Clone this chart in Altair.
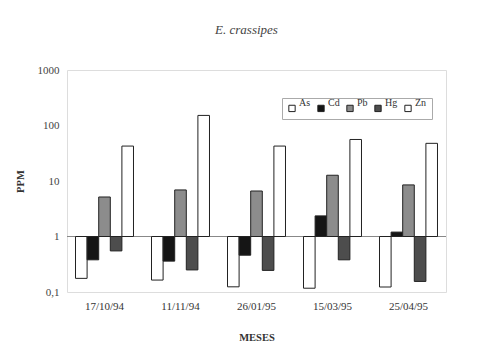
import altair as alt
import pandas as pd

dates = ["17/10/94", "11/11/94", "26/01/95", "15/03/95", "25/04/95"]
metals = ["As", "Cd", "Pb", "Hg", "Zn"]
as_vals = [0.176, 0.164, 0.124, 0.117, 0.123]
cd_vals = [0.38, 0.36, 0.46, 2.35, 1.2]
pb_vals = [5.15, 6.9, 6.6, 12.7, 8.5]
hg_vals = [0.55, 0.25, 0.245, 0.38, 0.155]
zn_vals = [42.6, 152, 42.6, 56, 47.7]
colors = ["#ffffff", "#151515", "#8c8c8c", "#4d4d4d", "#ffffff"]

series = dict(zip(metals, [as_vals, cd_vals, pb_vals, hg_vals, zn_vals]))
rows = []
for m in metals:
    for d, v in zip(dates, series[m]):
        rows.append({"date": d, "metal": m, "value": v, "base": 1})
df = pd.DataFrame(rows)

FONT = "Liberation Serif"

bars = alt.Chart(df).mark_bar(stroke="#222222", strokeWidth=1).encode(
    x=alt.X("date:N", sort=dates,
            scale=alt.Scale(paddingInner=0.237, paddingOuter=0.112),
            axis=alt.Axis(title="MESES", labelAngle=0, ticks=False, domain=False,
                          labelFont=FONT, labelFontSize=11, labelColor="#333",
                          labelPadding=8, titleFont=FONT, titleFontSize=10.5,
                          titleFontWeight="bold", titlePadding=21, titleColor="#333")),
    xOffset=alt.XOffset("metal:N", sort=metals, scale=alt.Scale(paddingInner=0, paddingOuter=0)),
    y=alt.Y("value:Q",
            scale=alt.Scale(type="log", domain=[0.1, 1000]),
            axis=alt.Axis(title="PPM", values=[0.1, 1, 10, 100, 1000], ticks=False,
                          domain=False, grid=False,
                          labelExpr="datum.value < 1 ? '0,1' : format(datum.value, 'd')",
                          labelFont=FONT, labelFontSize=11, labelColor="#444",
                          labelPadding=8, titleFont=FONT, titleFontSize=10.5,
                          titleFontWeight="bold", titlePadding=12, titleColor="#333")),
    y2="base:Q",
    color=alt.Color("metal:N", sort=metals,
                    scale=alt.Scale(domain=metals, range=colors),
                    legend=alt.Legend(title=None, orient="none", legendX=215, legendY=28,
                                      direction="horizontal", columns=5,
                                      symbolType="square", symbolSize=40,
                                      symbolStrokeColor="#222", symbolStrokeWidth=1,
                                      labelFont=FONT, labelFontSize=10, labelColor="#333",
                                      labelBaseline="bottom", labelOffset=2,
                                      columnPadding=4, padding=5,
                                      strokeColor="#aaaaaa",
                                      fillColor="white")),
)

base_line = alt.Chart(pd.DataFrame({"one": [1]})).mark_rule(color="#888888", strokeWidth=1).encode(
    y="one:Q"
)

chart = alt.layer(base_line, bars).properties(
    width=379, height=222,
    padding={"left": 59, "top": 62, "right": 34, "bottom": 58},
    autosize="none",
    title=alt.TitleParams("E. crassipes", font=FONT, fontSize=13, fontStyle="italic",
                          fontWeight="normal", color="#444", offset=27, dx=-10),
).configure_view(stroke="#999999", strokeWidth=1).configure(background="white")

chart.save("out.html", embed_options={"renderer": "svg", "actions": False})
